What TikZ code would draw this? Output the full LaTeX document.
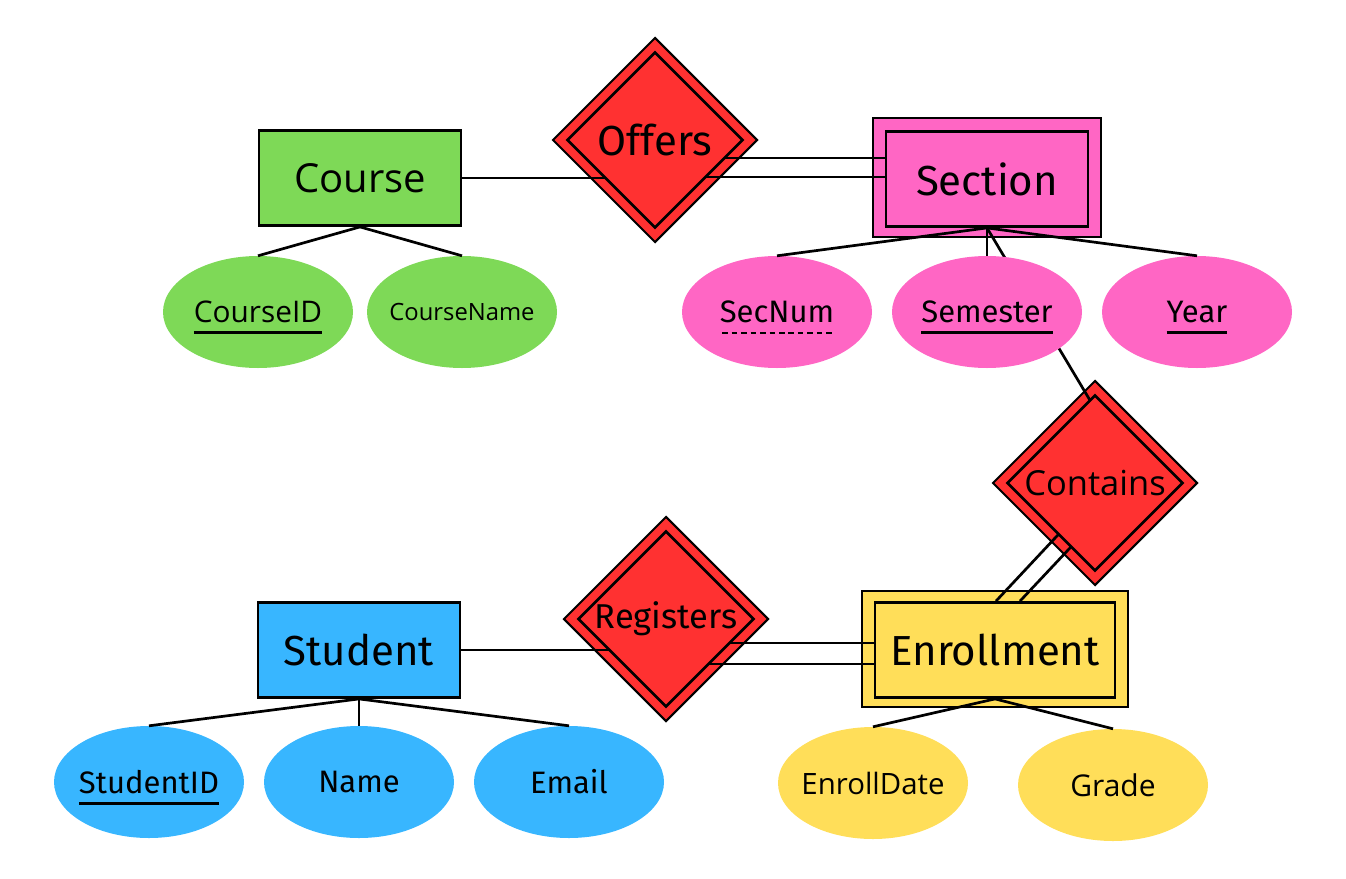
\documentclass[tikz,border=0pt]{standalone}
\usepackage{fontspec}
\setmainfont{Fira Sans}
\newfontfamily\canva{Open Sans}
\usetikzlibrary{shapes.geometric}
\definecolor{entgreen}{HTML}{7ED957}
\definecolor{entpink}{HTML}{FF66C4}
\definecolor{entblue}{HTML}{38B6FF}
\definecolor{entyellow}{HTML}{FFDE59}
\definecolor{relred}{HTML}{FF3131}
\newcommand{\nb}[1]{\makebox[0pt]{#1}}
\newcommand{\keyul}[1]{\setbox0\hbox{#1}\rlap{\smash{\rule[-11.4pt]{\wd0}{2.6pt}}}\box0}
\newcommand{\partul}[1]{\setbox0\hbox{#1}\rlap{\smash{\hbox to\wd0{\xleaders\hbox to 9pt{\hss\rule[-11.4pt]{5.5pt}{2.4pt}\hss}\hfil}}}\box0}
\begin{document}
\begin{tikzpicture}[x=1pt,y=-1pt,
    entity/.style={draw, line width=2.8pt, minimum width=202pt, minimum height=95pt,
      inner sep=0pt, font=\fontsize{42}{44}\selectfont},
    weak/.style={draw, line width=2pt},
    relo/.style={diamond, aspect=1, fill=relred, draw, line width=2pt,
      minimum size=205pt, inner sep=0pt},
    reli/.style={diamond, aspect=1, fill=relred, draw, line width=2.6pt,
      minimum size=176pt, inner sep=0pt, font=\fontsize{42}{44}\selectfont},
    attr/.style={ellipse, minimum width=190pt, minimum height=112pt, inner sep=0pt,
      font=\fontsize{31}{33}\selectfont},
    link/.style={line width=2.7pt}]
  \useasboundingbox (0,0) rectangle (1346,878);
  % outer frames
  \node[weak, fill=entpink, minimum width=228pt, minimum height=119pt] (Section_o) at (987,177) {};
  \node[weak, fill=entyellow, minimum width=266pt, minimum height=116pt] (Enrollment_o) at (995,649) {};
  \node[relo] (Offers_o) at (655,140) {};
  \node[relo] (Registers_o) at (666,619) {};
  \node[relo] (Contains_o) at (1095,483) {};
  % entities
  \node[entity, fill=entgreen, font=\canva\fontsize{40}{42}\selectfont] (Course) at (360,178) {Course};
  \node[entity, fill=entpink] (Section) at (987,179) {Section};
  \node[entity, fill=entblue] (Student) at (359,650) {Student};
  \node[entity, fill=entyellow, minimum width=240pt] (Enrollment) at (995,650) {Enrollment};
  % relationship links
  \coordinate (s1) at ([yshift=21pt]Section.west);
  \coordinate (s2) at ([yshift=2pt]Section.west);
  \coordinate (r1) at ([yshift=7pt]Enrollment.west);
  \coordinate (r2) at ([yshift=-14pt]Enrollment.west);
  \coordinate (e1) at ([xshift=1pt]Enrollment.north);
  \coordinate (e2) at ([xshift=25pt]Enrollment.north);
  \coordinate (c0) at (1097,412);
  \coordinate (c1) at (1085,506);
  \coordinate (c2) at (1100,516);
  \path (Course.east) edge [link] (Course.east -| Offers_o.center);
  \path (s1) edge [link] (s1 -| Offers_o.center);
  \path (s2) edge [link] (s2 -| Offers_o.center);
  \path (Student.east) edge [link] (Student.east -| Registers_o.center);
  \path (r1) edge [link] (r1 -| Registers_o.center);
  \path (r2) edge [link] (r2 -| Registers_o.center);
  \path (Section.south) edge [link] (c0);
  \path (e1) edge [link] (c1);
  \path (e2) edge [link] (c2);
  % relationships
  \node[reli] (Offers) at (Offers_o) {\nb{Offers}};
  \node[reli, font=\fontsize{34.5}{36}\selectfont] (Registers) at (Registers_o) {\nb{\raisebox{4pt}{Registers}}};
  \node[reli, font=\canva\fontsize{34.5}{36}\selectfont] (Contains) at (Contains_o) {\nb{Contains}};
  % attributes
  \node[attr, fill=entgreen, font=\canva\fontsize{29.8}{31}\selectfont] (CourseID) at (258,312) {\nb{\keyul{CourseID}}};
  \node[attr, fill=entgreen, font=\canva\fontsize{23.8}{25}\selectfont] (CourseName) at (462,312) {\nb{CourseName}};
  \node[attr, fill=entpink] (SecNum) at (777,312) {\nb{\partul{SecNum}}};
  \node[attr, fill=entpink] (Semester) at (987,312) {\nb{\keyul{Semester}}};
  \node[attr, fill=entpink] (Year) at (1197,312) {\nb{\keyul{Year}}};
  \node[attr, fill=entblue] (StudentID) at (149,782) {\nb{\keyul{StudentID}}};
  \node[attr, fill=entblue] (Name) at (359,782) {\nb{Name}};
  \node[attr, fill=entblue] (Email) at (569,782) {\nb{Email}};
  \node[attr, fill=entyellow, font=\canva\fontsize{29.4}{31}\selectfont] (EnrollDate) at (873,783) {\nb{EnrollDate}};
  \node[attr, fill=entyellow, font=\canva\fontsize{30}{32}\selectfont] (Grade) at (1113,785) {\nb{Grade}};
  % attribute links
  \path (Course.south) edge [link] (CourseID.north);
  \path (Course.south) edge [link] (CourseName.north);
  \path (Section.south) edge [link] (SecNum.north);
  \path (Section.south) edge [link] (Semester.north);
  \path (Section.south) edge [link] (Year.north);
  \path (Student.south) edge [link] (StudentID.north);
  \path (Student.south) edge [link] (Name.north);
  \path (Student.south) edge [link] (Email.north);
  \path (Enrollment.south) edge [link] (EnrollDate.north);
  \path (Enrollment.south) edge [link] (Grade.north);
\end{tikzpicture}
\end{document}
